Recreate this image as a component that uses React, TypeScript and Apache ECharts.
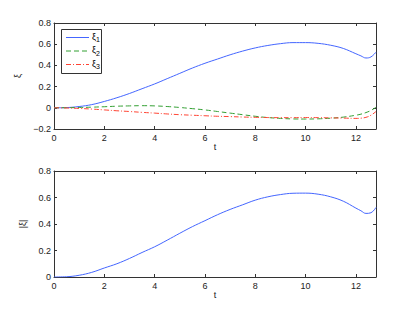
import React, { useEffect, useRef } from "react";
import * as echarts from "echarts";

const tValues = [0, 0.5, 1, 1.5, 2, 2.5, 3, 3.5, 4, 4.5, 5, 5.5, 6, 6.5, 7, 7.5, 8, 8.5, 9, 9.5, 10, 10.5, 11, 11.5, 12, 12.2, 12.4, 12.6, 12.8];
const xi1 = [0, 0.002, 0.012, 0.03, 0.06, 0.095, 0.135, 0.18, 0.225, 0.275, 0.325, 0.375, 0.42, 0.46, 0.5, 0.535, 0.565, 0.588, 0.605, 0.615, 0.615, 0.608, 0.59, 0.56, 0.51, 0.49, 0.47, 0.48, 0.525];
const xi2 = [0, 0.001, 0.003, 0.006, 0.01, 0.015, 0.018, 0.02, 0.018, 0.012, 0.003, -0.008, -0.02, -0.035, -0.05, -0.065, -0.08, -0.092, -0.1, -0.105, -0.106, -0.104, -0.098, -0.088, -0.07, -0.06, -0.045, -0.025, 0.005];
const xi3 = [0, -0.002, -0.006, -0.012, -0.02, -0.028, -0.035, -0.043, -0.05, -0.058, -0.065, -0.07, -0.075, -0.08, -0.083, -0.087, -0.09, -0.092, -0.093, -0.093, -0.092, -0.093, -0.095, -0.097, -0.1, -0.098, -0.09, -0.07, -0.035];
const xiNorm = [0, 0.002, 0.013, 0.035, 0.068, 0.1, 0.14, 0.185, 0.228, 0.278, 0.33, 0.38, 0.425, 0.47, 0.51, 0.545, 0.58, 0.605, 0.622, 0.632, 0.633, 0.625, 0.605, 0.572, 0.52, 0.5, 0.48, 0.485, 0.525];
const legendNames = ["ξ1", "ξ2", "ξ3"];

const pairs = (ys: number[]) => tValues.map((t, i) => [t, ys[i]]);

const FONT = "Liberation Sans";
const AX = "#333";
const COLORS = ["#4466ff", "#33a033", "#ff4433"];
const DASHES: any[] = ["solid", [5, 3], [5, 2, 1, 2]];

export default function App() {
  const ref = useRef<HTMLDivElement>(null);
  useEffect(() => {
    const chart = echarts.init(ref.current!, undefined, { renderer: "svg" });
    const baseX = (grid: number, pos: "bottom" | "top", show: boolean, name?: string) => ({
      type: "value" as const,
      gridIndex: grid,
      position: pos,
      min: 0,
      max: 12.8,
      interval: 2,
      name: name,
      nameLocation: "middle" as const,
      nameGap: 13,
      nameTextStyle: { fontFamily: FONT, fontSize: 9, color: "#222" },
      axisLine: { show: true, onZero: false, lineStyle: { color: AX, width: 1 } },
      axisTick: { show: true, inside: true, length: 3, lineStyle: { color: AX } },
      axisLabel: { show, fontFamily: FONT, fontSize: 9, color: "#222", margin: 4, showMaxLabel: false },
      splitLine: { show: false },
    });
    const baseY = (grid: number, pos: "left" | "right", show: boolean, min: number, max: number, name?: string, gap?: number) => ({
      type: "value" as const,
      gridIndex: grid,
      position: pos,
      min,
      max,
      interval: 0.2,
      name: name,
      nameLocation: "middle" as const,
      nameGap: gap ?? 20,
      nameTextStyle: { fontFamily: FONT, fontSize: 9, color: "#222" },
      axisLine: { show: true, onZero: false, lineStyle: { color: AX, width: 1 } },
      axisTick: { show: true, inside: true, length: 3, lineStyle: { color: AX } },
      axisLabel: {
        show,
        fontFamily: FONT,
        fontSize: 9,
        color: "#222",
        margin: 3,
        formatter: (v: number) => {
          const r = Math.round(v * 10) / 10;
          if (r === 0) return "0";
          return r < 0 ? "\u2212" + Math.abs(r).toFixed(1) : r.toFixed(1);
        },
      },
      splitLine: { show: false },
    });
    const rich = {
      a: { fontFamily: FONT, fontSize: 9, color: "#222" },
      s: { fontFamily: FONT, fontSize: 7, color: "#222", padding: [6, 0, 0, 0] },
    };
    const lineSeries = (name: string, ys: number[], i: number, grid: number) => ({
      name,
      type: "line",
      xAxisIndex: grid * 2,
      yAxisIndex: grid * 2,
      data: pairs(ys),
      smooth: 0.4,
      symbol: "none",
      color: COLORS[i],
      lineStyle: { color: COLORS[i], width: 1, type: DASHES[i] },
    });
    const legendRows = legendNames.map((n, i) => ({
      type: "group",
      y: 8.5 + i * 13.5,
      children: [
        {
          type: "line",
          shape: { x1: 5, y1: 0, x2: 28, y2: 0 },
          style: {
            stroke: COLORS[i],
            lineWidth: 1,
            lineDash: DASHES[i] === "solid" ? null : DASHES[i],
          },
        },
        {
          type: "text",
          x: 31,
          y: -1,
          style: {
            text: `{a|ξ}{s|${n.slice(1)}}`,
            rich,
            verticalAlign: "middle",
          },
        },
      ],
    }));
    chart.setOption({
      animation: false,
      backgroundColor: "#fff",
      grid: [
        { left: 54, top: 23, width: 322, height: 106 },
        { left: 54, top: 171, width: 322, height: 106 },
      ],
      xAxis: [
        baseX(0, "bottom", true, "t"),
        baseX(0, "top", false),
        baseX(1, "bottom", true, "t"),
        baseX(1, "top", false),
      ],
      yAxis: [
        baseY(0, "left", true, -0.2, 0.8, "ξ", 24),
        baseY(0, "right", false, -0.2, 0.8),
        baseY(1, "left", true, 0, 0.8, "|ξ|", 20),
        baseY(1, "right", false, 0, 0.8),
      ],
      graphic: [
        {
          type: "group",
          left: 61,
          top: 29,
          children: [
            {
              type: "rect",
              shape: { x: 0.5, y: 0.5, width: 40, height: 44 },
              style: { fill: "#fff", stroke: AX, lineWidth: 1 },
            },
            ...legendRows,
          ],
        },
      ],
      series: [
        lineSeries(legendNames[0], xi1, 0, 0),
        lineSeries(legendNames[1], xi2, 1, 0),
        lineSeries(legendNames[2], xi3, 2, 0),
        lineSeries("|ξ|", xiNorm, 0, 1),
      ],
    });
    return () => chart.dispose();
  }, []);
  return <div ref={ref} style={{ width: 415, height: 311, margin: -8 }} />;
}
